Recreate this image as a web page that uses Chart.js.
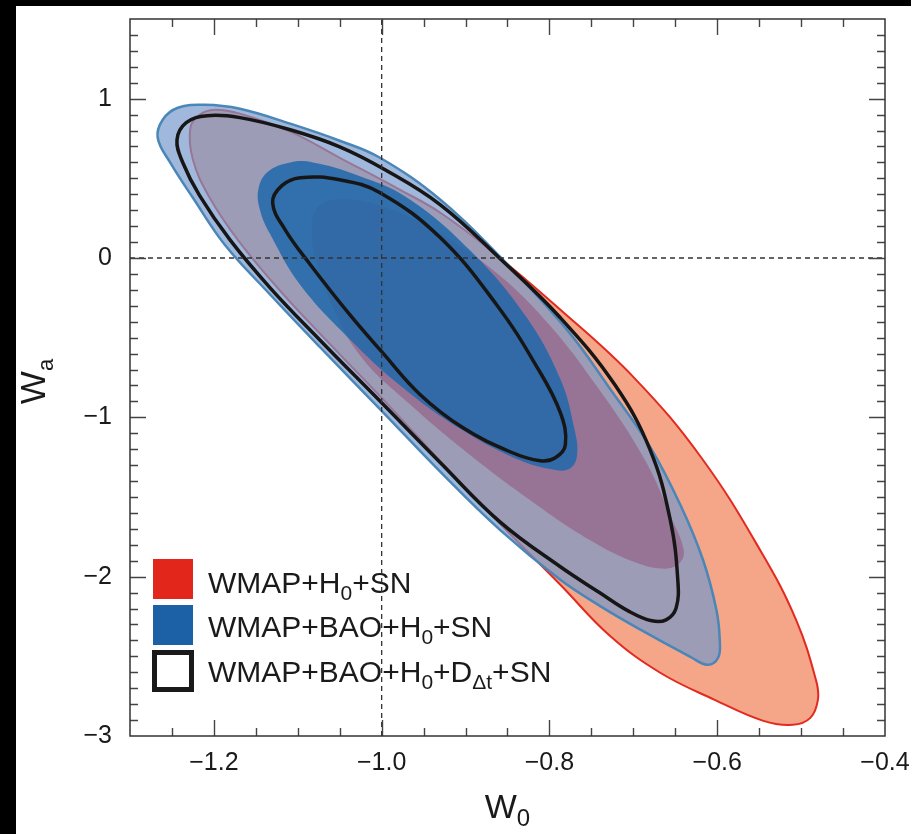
<!DOCTYPE html>
<html>
<head>
<meta charset="utf-8">
<script src="https://cdn.jsdelivr.net/npm/chart.js@4.4.1/dist/chart.umd.min.js"></script>
<style>
  html, body { margin: 0; padding: 0; background: #000; }
  #wrap { position: absolute; left: 16px; top: 6px; width: 895px; height: 828px; background: #fff; }
</style>
</head>
<body>
<div id="wrap"><canvas id="myChart" width="895" height="828"></canvas></div>
<script>
const ctx = document.getElementById('myChart');
const FONT = "'Liberation Sans', Arial, sans-serif";

// axis ticks
const xTickValues = [-1.2, -1.0, -0.8, -0.6, -0.4];
const xTickLabels = ['\u22121.2', '\u22121.0', '\u22120.8', '\u22120.6', '\u22120.4'];
const yTickValues = [-3, -2, -1, 0, 1];
const yTickLabels = ['\u22123', '\u22122', '\u22121', '0', '1'];

const seriesNames = ['WMAP+H_{0}+SN', 'WMAP+BAO+H_{0}+SN', 'WMAP+BAO+H_{0}+D_{\u0394t}+SN'];

// contours as [w0, wa] points (closed loops)
const red2 = [[-0.990, -0.934], [-1.062, -0.538], [-1.119, -0.218], [-1.169, 0.096], [-1.205, 0.378],
  [-1.225, 0.617], [-1.228, 0.818], [-1.217, 0.899], [-1.199, 0.931], [-1.169, 0.906], [-1.109, 0.793],
  [-1.050, 0.629], [-0.978, 0.428], [-0.930, 0.284], [-0.871, 0.052], [-0.791, -0.306], [-0.699, -0.752],
  [-0.618, -1.260], [-0.547, -1.850], [-0.506, -2.271], [-0.482, -2.654], [-0.480, -2.773], [-0.489, -2.886],
  [-0.510, -2.930], [-0.545, -2.905], [-0.603, -2.773], [-0.668, -2.603], [-0.728, -2.371], [-0.787, -2.051],
  [-0.859, -1.668], [-0.925, -1.304]];
const red1 = [[-0.966, -0.92], [-1.026, -0.61], [-1.062, -0.26], [-1.080, 0.02], [-1.083, 0.21],
  [-1.076, 0.32], [-1.050, 0.37], [-1.002, 0.33], [-0.942, 0.19], [-0.871, -0.06], [-0.805, -0.39],
  [-0.740, -0.83], [-0.686, -1.27], [-0.654, -1.64], [-0.640, -1.83], [-0.644, -1.91], [-0.662, -1.95],
  [-0.698, -1.91], [-0.752, -1.77], [-0.823, -1.52], [-0.895, -1.235]];
const blue2 = [[-1.0, -0.959], [-1.074, -0.557], [-1.135, -0.218], [-1.187, 0.083], [-1.225, 0.378],
  [-1.252, 0.598], [-1.267, 0.755], [-1.261, 0.868], [-1.243, 0.943], [-1.211, 0.962], [-1.169, 0.937],
  [-1.109, 0.843], [-1.050, 0.736], [-1.002, 0.629], [-0.930, 0.366], [-0.859, 0.008], [-0.779, -0.451],
  [-0.727, -0.827], [-0.680, -1.185], [-0.644, -1.549], [-0.617, -1.894], [-0.601, -2.208], [-0.597, -2.396],
  [-0.599, -2.509], [-0.612, -2.553], [-0.632, -2.503], [-0.691, -2.334], [-0.740, -2.183], [-0.787, -2.020],
  [-0.859, -1.706], [-0.930, -1.342]];
const blue1 = [[-0.978, -0.80], [-1.038, -0.51], [-1.097, -0.17], [-1.133, 0.15], [-1.145, 0.30],
  [-1.147, 0.43], [-1.136, 0.54], [-1.109, 0.60], [-1.082, 0.60], [-1.029, 0.52], [-0.970, 0.38],
  [-0.895, 0.05], [-0.829, -0.36], [-0.787, -0.76], [-0.770, -1.08], [-0.767, -1.235], [-0.775, -1.32],
  [-0.793, -1.33], [-0.835, -1.27], [-0.907, -1.07]];
const black2 = [[-1.0, -0.909], [-1.074, -0.513], [-1.133, -0.187], [-1.181, 0.115], [-1.217, 0.391],
  [-1.237, 0.598], [-1.244, 0.742], [-1.233, 0.849], [-1.208, 0.893], [-1.169, 0.881], [-1.109, 0.805],
  [-1.050, 0.698], [-0.996, 0.554], [-0.930, 0.334], [-0.860, 0.002], [-0.787, -0.375], [-0.722, -0.796],
  [-0.680, -1.204], [-0.656, -1.643], [-0.647, -2.020], [-0.649, -2.196], [-0.661, -2.271], [-0.678, -2.277],
  [-0.704, -2.221], [-0.740, -2.101], [-0.787, -1.938], [-0.859, -1.656], [-0.930, -1.285]];
const black1 = [[-1.0, -0.588], [-1.038, -0.356], [-1.085, -0.042], [-1.115, 0.177], [-1.130, 0.347],
  [-1.119, 0.454], [-1.097, 0.504], [-1.050, 0.491], [-1.002, 0.410], [-0.930, 0.127], [-0.863, -0.293],
  [-0.815, -0.683], [-0.787, -0.971], [-0.781, -1.172], [-0.793, -1.254], [-0.811, -1.273], [-0.847, -1.216],
  [-0.903, -1.066], [-0.954, -0.858]];

// dashed reference lines w0 = -1, wa = 0
const refW0 = [[-1.0, -3], [-1.0, 1.5]];
const refWa = [[-1.3, 0], [-0.4, 0]];

const toPts = arr => arr.map(([w0, wa]) => ({x: w0, y: wa}));

function contour(arr, fill, stroke, width) {
    return {
        data: toPts(arr),
        closed: true,
        showLine: true,
        pointRadius: 0,
        tension: 0.4,
        fill: fill ? 'shape' : false,
        backgroundColor: fill || 'transparent',
        borderColor: stroke || 'transparent',
        borderWidth: width || 0,
        borderJoinStyle: 'round'
    };
}

function dashed(arr) {
    return {
        data: toPts(arr),
        showLine: true,
        pointRadius: 0,
        fill: false,
        borderColor: '#333',
        borderWidth: 1.3,
        borderDash: [5, 4]
    };
}

// text with _{...} subscripts
function drawRich(c, str, x, y, size, subSize, drop, align) {
    const parts = str.split(/_\{([^}]*)\}/).map((t, i) => ({t, sub: i % 2 === 1})).filter(p => p.t);
    let w = 0;
    parts.forEach(p => {
        c.font = (p.sub ? subSize : size) + 'px ' + FONT;
        p.w = c.measureText(p.t).width;
        w += p.w;
    });
    let cx = align === 'center' ? x - w / 2 : x;
    c.textAlign = 'left';
    c.textBaseline = 'alphabetic';
    parts.forEach(p => {
        c.font = (p.sub ? subSize : size) + 'px ' + FONT;
        c.fillText(p.t, cx, p.sub ? y + drop : y);
        cx += p.w;
    });
}

// make contour lines closed, smooth loops (like the radar chart does)
const closeLoops = {
    id: 'closeLoops',
    afterDatasetUpdate(chart, args) {
        if (!chart.data.datasets[args.index].closed) return;
        const line = args.meta.dataset;
        line._loop = true;
        line._fullLoop = true;
        delete line._segments;
        delete line._path;
        line._pointsUpdated = false;
    }
};

const decor = {
    id: 'decor',
    beforeDatasetsDraw(chart) {
        // legend
        const c = chart.ctx;
        c.save();
        c.fillStyle = '#e2261b';
        c.fillRect(137, 553, 40, 40);
        c.fillStyle = '#1c60a6';
        c.fillRect(137, 599, 40, 40);
        c.strokeStyle = '#1a1a1a';
        c.lineWidth = 5;
        c.strokeRect(138.5, 646.5, 37, 37);
        c.fillStyle = '#1a1a1a';
        const rows = [587, 631, 676];
        seriesNames.forEach((s, i) => drawRich(c, s, 192, rows[i], 30, 21, 7, 'left'));
        c.restore();
    },
    afterDraw(chart) {
        const {ctx: c, chartArea: a, scales} = chart;
        const x = scales.x, y = scales.y;
        c.save();
        c.strokeStyle = '#444';
        c.lineWidth = 1.4;
        c.beginPath();
        for (let i = -25; i <= -9; i++) {
            const px = Math.round(x.getPixelForValue(i * 0.05)) + 0.5;
            const len = (i % 4 === 0) ? 16 : 8;
            c.moveTo(px, a.bottom); c.lineTo(px, a.bottom - len);
            c.moveTo(px, a.top); c.lineTo(px, a.top + len);
        }
        for (let i = -29; i <= 14; i++) {
            const py = Math.round(y.getPixelForValue(i / 10)) + 0.5;
            const len = (i % 10 === 0) ? 16 : 8;
            c.moveTo(a.left, py); c.lineTo(a.left + len, py);
            c.moveTo(a.right, py); c.lineTo(a.right - len, py);
        }
        c.stroke();
        c.strokeStyle = '#333';
        c.lineWidth = 1.5;
        c.strokeRect(a.left, a.top, a.right - a.left, a.bottom - a.top);

        // axis titles
        c.fillStyle = '#1a1a1a';
        drawRich(c, 'W_{0}', (a.left + a.right) / 2, 812, 34, 24, 8, 'center');
        c.translate(29, (a.top + a.bottom) / 2 + 4);
        c.rotate(-Math.PI / 2);
        drawRich(c, 'W_{a}', 0, 0, 35, 22, 8, 'center');
        c.restore();
    }
};

const noPad = axis => {
    axis.paddingTop = 0;
    axis.paddingBottom = 0;
    axis.paddingLeft = 0;
    axis.paddingRight = 0;
};

new Chart(ctx, {
    type: 'scatter',
    data: {
        datasets: [
            dashed(refW0),
            dashed(refWa),
            contour(black1, null, '#161616', 3.5),
            contour(black2, null, '#161616', 3.5),
            contour(blue1, 'rgba(30, 105, 170, 0.85)', null, 0),
            contour(blue2, 'rgba(117, 152, 204, 0.69)', '#4a86b8', 2.5),
            contour(red1, '#e0261b', null, 0),
            contour(red2, '#f5a689', '#e32a1f', 2)
        ]
    },
    options: {
        responsive: false,
        devicePixelRatio: 1,
        animation: false,
        events: [],
        layout: { padding: { top: 13, right: 26, left: 0, bottom: 0 } },
        plugins: {
            legend: { display: false },
            tooltip: { enabled: false }
        },
        scales: {
            x: {
                type: 'linear',
                min: -1.3,
                max: -0.4,
                grid: { display: false, drawTicks: false },
                border: { display: false },
                afterBuildTicks: axis => { axis.ticks = xTickValues.map(v => ({value: v})); },
                afterFit: axis => { axis.height = 98; noPad(axis); },
                ticks: {
                    autoSkip: false,
                    maxRotation: 0,
                    padding: 12,
                    color: '#1a1a1a',
                    font: { family: FONT, size: 25 },
                    callback: v => xTickLabels[xTickValues.findIndex(t => Math.abs(t - v) < 1e-9)]
                }
            },
            y: {
                type: 'linear',
                min: -3,
                max: 1.5,
                grid: { display: false, drawTicks: false },
                border: { display: false },
                afterBuildTicks: axis => { axis.ticks = yTickValues.map(v => ({value: v})); },
                afterFit: axis => { axis.width = 114; noPad(axis); },
                ticks: {
                    autoSkip: false,
                    padding: 18,
                    color: '#1a1a1a',
                    font: { family: FONT, size: 25 },
                    callback: v => yTickLabels[yTickValues.indexOf(v)]
                }
            }
        }
    },
    plugins: [closeLoops, decor]
});
</script>
</body>
</html>
